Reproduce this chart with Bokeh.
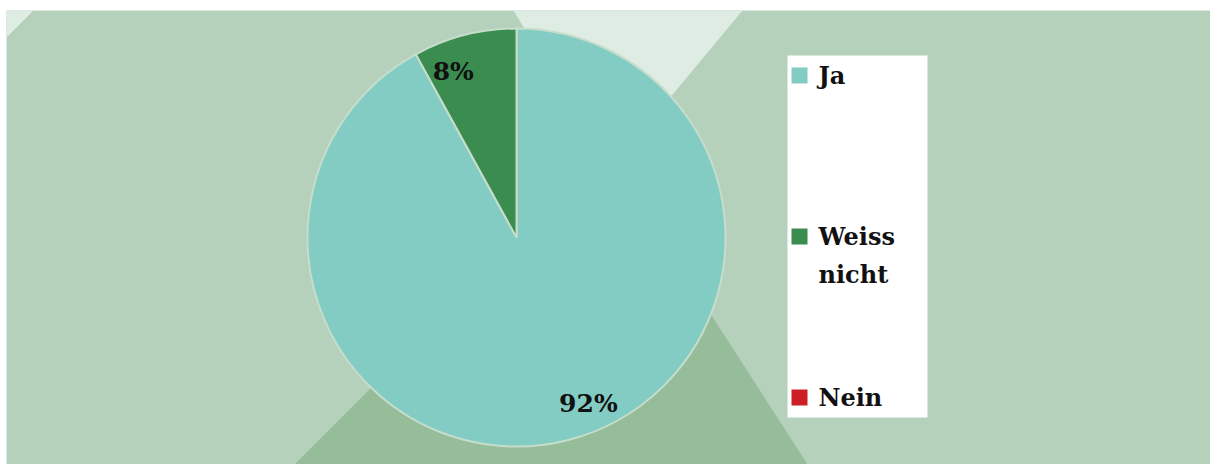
import math
import textwrap
from bokeh.plotting import figure
from bokeh.models import Range1d, ColumnDataSource
from bokeh.core.properties import value
from bokeh.embed import file_html
from bokeh.resources import INLINE

# ---- data ----
categories = ["Ja", "Weiss nicht", "Nein"]
percent = [92, 8, 0]
slice_colors = ["#83ccc3", "#3a8c4f", "#cc1f24"]

# ---- styling / layout constants ----
FONT = "DejaVu Serif"
BG = "#b5d1bc"
BG_LIGHT = "#dfece3"
BG_DARK = "#95bd9a"
LEFT, TOP = 6, 10
W, H = 1210, 464
X0, X1 = LEFT, W          # x data range (screen-like units)
YTOP = 464                # conversion: data y = YTOP - screen y


def sy(v):
    return YTOP - v


p = figure(width=W, height=H, output_backend="svg", toolbar_location=None,
           x_range=Range1d(X0, X1), y_range=Range1d(0, YTOP - TOP),
           x_axis_type=None, y_axis_type=None, match_aspect=False)
p.min_border = 0
p.min_border_top = TOP
p.min_border_left = LEFT
p.border_fill_color = "white"
p.background_fill_color = BG
p.outline_line_color = None
p.grid.visible = False

# decorative background shapes
bg_xs = [[0, 43, 0],
         [513, 742, 609],
         [606, 820, 274]]
bg_ys = [[sy(43), sy(0), sy(0)],
         [sy(10), sy(10), sy(170)],
         [sy(152), sy(484), sy(484)]]
p.patches(bg_xs, bg_ys, fill_color=[BG_LIGHT, BG_LIGHT, BG_DARK], line_color=None)

# ---- pie ----
cx, cy, R = 516, sy(237), 209
total = sum(percent)
starts, ends, cum = [], [], 0.0
for v in percent:
    frac = v / total
    starts.append(math.pi / 2 - 2 * math.pi * cum)
    cum += frac
    ends.append(math.pi / 2 - 2 * math.pi * cum)

keep = [i for i, v in enumerate(percent) if v > 0]
src = ColumnDataSource(dict(
    x=[cx] * len(keep), y=[cy] * len(keep),
    start=[starts[i] for i in keep], end=[ends[i] for i in keep],
    color=[slice_colors[i] for i in keep]))
p.wedge(x="x", y="y", radius=R, start_angle="start", end_angle="end",
        direction="clock", fill_color="color", line_color="#c6ddcb",
        line_width=2, source=src)

# data labels
lx, ly, lt, la = [], [], [], []
for i in keep:
    mid = (starts[i] + ends[i]) / 2
    r = 0.82 * R
    lx.append(cx + r * math.cos(mid))
    ly.append(cy + r * math.sin(mid))
    lt.append(f"{percent[i]}%")
    la.append("right" if math.cos(mid) < 0 else "left")
p.text(x=lx, y=ly, text=lt, text_align=la, text_baseline="middle",
       text_font=value(FONT), text_font_style="bold", text_font_size="25px",
       text_color="#111111")

# ---- legend ----
bx0, bx1, by0, by1 = 787, 927, 55, 417
p.quad(left=bx0, right=bx1, top=sy(by0), bottom=sy(by1),
       fill_color="white", line_color=None)
pad = 20
n = len(categories)
step = (by1 - by0 - 2 * pad) / (n - 1)
sq = 16
line_h = 38
sq_x, sq_y, tx, ty, tt = [], [], [], [], []
for i, name in enumerate(categories):
    yc = by0 + pad + i * step
    sq_x.append(bx0 + 4 + sq / 2)
    sq_y.append(sy(yc))
    for j, part in enumerate(textwrap.wrap(name, 6)):
        tx.append(818)
        ty.append(sy(yc + j * line_h))
        tt.append(part)
p.rect(x=sq_x, y=sq_y, width=sq, height=sq, fill_color=slice_colors,
       line_color=None)
p.text(x=tx, y=ty, text=tt, text_align="left", text_baseline="middle",
       text_font=value(FONT), text_font_style="bold", text_font_size="24px",
       text_color="#111111")

open("out.html", "w").write(file_html(p, INLINE))
